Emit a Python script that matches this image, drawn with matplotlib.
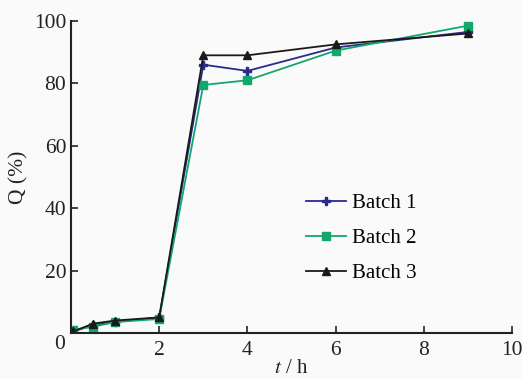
import matplotlib
matplotlib.use("Agg")
import matplotlib.pyplot as plt

t = [0.05, 0.5, 1, 2, 3, 4, 6, 9]
batch1 = [0.5, 2.5, 3.5, 5.0, 86.0, 84.0, 91.5, 96.5]
batch2 = [1.0, 2.0, 3.5, 4.5, 79.5, 81.0, 90.5, 98.5]
batch3 = [0.5, 3.0, 4.0, 5.0, 89.0, 89.0, 92.5, 96.0]
xticks = [2, 4, 6, 8, 10]
yticks = [20, 40, 60, 80, 100]

plt.rcParams['font.family'] = ['Liberation Serif', 'DejaVu Serif']
plt.rcParams['mathtext.fontset'] = 'stix'

fig = plt.figure(figsize=(5.22, 3.79), dpi=100, facecolor='#fafafa')
ax = fig.add_axes([71/522, 1-333/379, (512-71)/522, (333-21)/379])
ax.set_facecolor('#fafafa')

ax.plot(t, batch1, color='#2a2a8c', marker='P', markersize=6, lw=1.3, label='Batch 1')
ax.plot(t, batch2, color='#12a86a', marker='s', markersize=6, lw=1.3, label='Batch 2')
ax.plot(t, batch3, color='#1a1a1a', marker='^', markersize=6, lw=1.3, label='Batch 3')

ax.set_xlim(0, 10)
ax.set_ylim(0, 100)
ax.set_xticks(xticks)
ax.set_yticks(yticks)
ax.tick_params(direction='in', length=5, width=1.2, labelsize=15.5, colors='#222222')
ax.tick_params(axis='x', pad=6)
for s in ['top', 'right']:
    ax.spines[s].set_visible(False)
for s in ['left', 'bottom']:
    ax.spines[s].set_linewidth(1.5)
    ax.spines[s].set_color('#222222')
ax.text(-0.25, -0.5, '0', fontsize=15.5, ha='center', va='top', color='#222222')
ax.set_ylabel('Q (%)', fontsize=15.5, color='#222222', labelpad=4)
ax.set_xlabel(r'$t$ / h', fontsize=15, color='#222222', labelpad=-1)

ax.legend(loc='upper left', bbox_to_anchor=(0.49, 0.508), frameon=False, fontsize=15,
          handlelength=1.95, labelspacing=0.75, handletextpad=0.25)

fig.savefig('out.png', dpi=100, facecolor='#fafafa')
